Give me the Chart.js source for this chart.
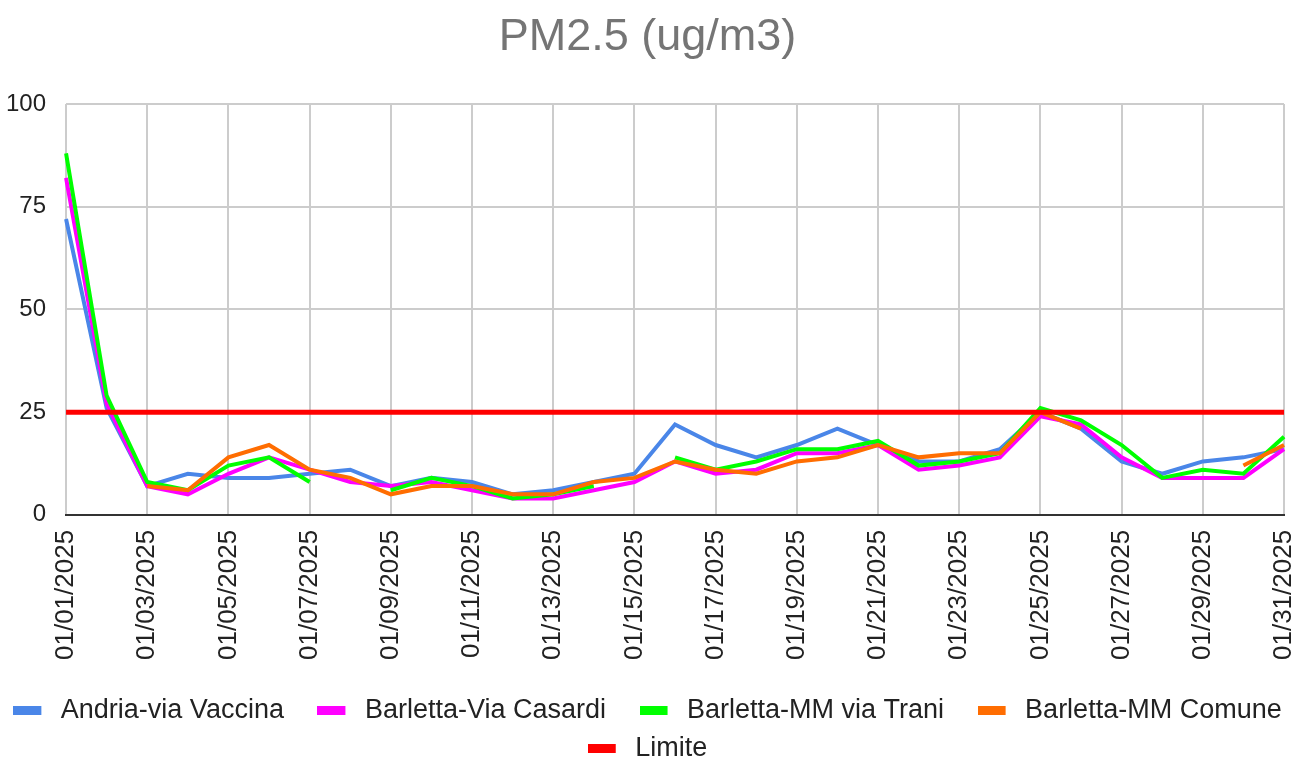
<!DOCTYPE html>
<html>
<head>
<meta charset="utf-8">
<script src="https://cdn.jsdelivr.net/npm/chart.js@4"></script>
<style>
  html, body { margin: 0; padding: 0; background: #fff; }
  #wrap { width: 1295px; height: 760px; }
</style>
</head>
<body>
<div id="wrap"><canvas id="myChart"></canvas></div>
<script>
// dates shown on the x axis (one per day)
var days = [];
for (var d = 1; d <= 31; d++) {
    days.push('01/' + (d < 10 ? '0' + d : d) + '/2025');
}

var andria = [72, 26, 7, 10, 9, 9, 10, 11, 7, 9, 8, 5, 6, 8, 10, 22, 17, 14, 17, 21, 17, 13, 13, 16, 25, 21, 13, 10, 13, 14, 16];
var casardi = [82, 27, 7, 5, 10, 14, 11, 8, 7, 8, 6, 4, 4, 6, 8, 13, 10, 11, 15, 15, 17, 11, 12, 14, 24, 22, 14, 9, 9, 9, 16];
var viaTrani = [88, 29, 8, 6, 12, 14, 8, null, 6, 9, 7, 4, 5, 7, null, 14, 11, 13, 16, 16, 18, 12, 13, 15, 26, 23, 17, 9, 11, 10, 19];
var comune = [null, null, 7, 6, 14, 17, 11, 9, 5, 7, 7, 5, 5, 8, 9, 13, 11, 10, 13, 14, 17, 14, 15, 15, 25, 21, null, null, null, 12, 17];
var limite = [];
for (var i = 0; i < days.length; i++) limite.push(25);

var yTicks = [0, 25, 50, 75, 100];

function line(label, data, color, idx, width) {
    return {
        label: label,
        data: data,
        borderColor: color,
        backgroundColor: color,
        borderWidth: width || 4,
        pointRadius: 0,
        pointHoverRadius: 0,
        tension: 0,
        spanGaps: false,
        order: -idx
    };
}

// small swatch used as legend marker (flat bar with a little room after it)
function swatch(color) {
    var c = document.createElement('canvas');
    c.width = 34;
    c.height = 9;
    var g = c.getContext('2d');
    g.fillStyle = color;
    g.fillRect(0, 0, 28, 9);
    return c;
}

Chart.defaults.font.family = '"Liberation Sans", Arial, sans-serif';

var myChart = new Chart(document.getElementById('myChart'), {
    type: 'line',
    data: {
        labels: days,
        datasets: [
            line('Andria-via Vaccina', andria, '#4a86e8', 0),
            line('Barletta-Via Casardi', casardi, '#ff00ff', 1),
            line('Barletta-MM via Trani', viaTrani, '#00ff00', 2),
            line('Barletta-MM Comune', comune, '#ff6d01', 3),
            line('Limite', limite, '#ff0000', 4, 5)
        ]
    },
    options: {
        responsive: true,
        maintainAspectRatio: false,
        animation: false,
        layout: { padding: { left: 0, right: 0, top: 0, bottom: -12 } },
        plugins: {
            title: {
                display: true,
                text: 'PM2.5 (ug/m3)',
                color: '#757575',
                font: { size: 45, weight: 'normal' },
                padding: { top: 11, bottom: 39 }
            },
            legend: {
                position: 'bottom',
                labels: {
                    usePointStyle: true,
                    pointStyleWidth: 34,
                    boxHeight: 9,
                    color: '#222',
                    padding: 11,
                    font: { size: 27 },
                    generateLabels: function (chart) {
                        var items = Chart.defaults.plugins.legend.labels.generateLabels(chart);
                        items.sort(function (a, b) { return a.datasetIndex - b.datasetIndex; });
                        items.forEach(function (it, k) {
                            it.pointStyle = swatch(chart.data.datasets[it.datasetIndex].borderColor);
                            if (k < 3) it.text = it.text + '   ';
                        });
                        return items;
                    }
                }
            },
            tooltip: { enabled: false }
        },
        scales: {
            x: {
                grid: { color: '#cccccc', lineWidth: 2, drawTicks: false },
                border: { color: '#333333', width: 2 },
                afterFit: function (axis) {
                    axis.height += 11;
                    axis.paddingRight = 11;
                },
                ticks: {
                    autoSkip: false,
                    maxRotation: 90,
                    minRotation: 90,
                    color: '#222',
                    padding: 15,
                    font: { size: 26 },
                    callback: function (v, i) {
                        return i % 2 === 0 ? days[i] : null;
                    }
                }
            },
            y: {
                min: 0,
                max: 100,
                afterBuildTicks: function (axis) {
                    axis.ticks = yTicks.map(function (v) { return { value: v }; });
                },
                afterFit: function (axis) { axis.width -= 14; },
                grid: { color: '#cccccc', lineWidth: 2, drawTicks: false },
                border: { display: false },
                ticks: {
                    color: '#222',
                    padding: 20,
                    font: { size: 24 }
                }
            }
        }
    }
});
</script>
</body>
</html>
